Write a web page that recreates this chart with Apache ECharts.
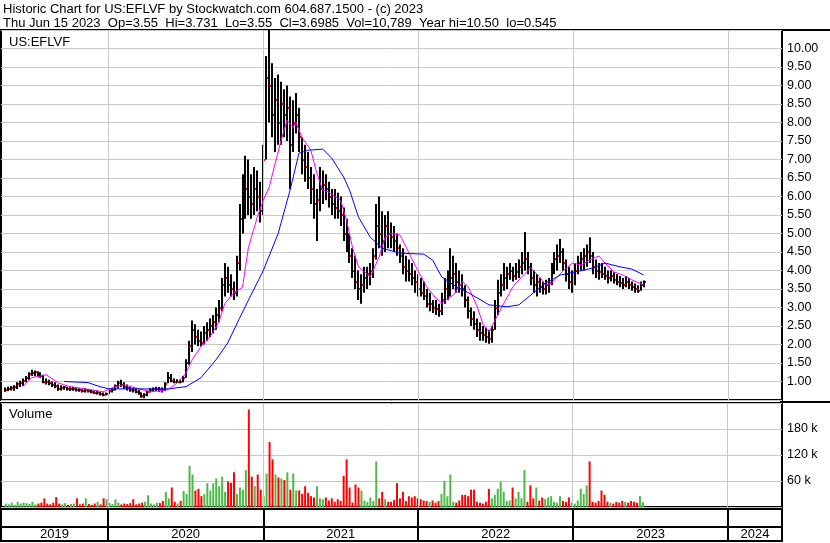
<!DOCTYPE html>
<html><head><meta charset="utf-8">
<script src="https://cdn.jsdelivr.net/npm/echarts/dist/echarts.min.js"></script>
<style>html,body{margin:0;padding:0;background:#fff}#c{width:830px;height:543px}</style>
</head><body><div id="c"></div>
<script>
// ---------- data (weekly bars) ----------
const firstWeek = '2019-05-03';
const highs = [0.84,0.86,0.88,0.90,0.98,1.02,1.08,1.15,1.25,1.32,
1.30,1.28,1.25,1.18,1.08,1.05,1.00,0.98,0.92,0.90,
0.88,0.86,0.85,0.86,0.84,0.82,0.80,0.82,0.80,0.78,
0.76,0.75,0.72,0.70,0.70,0.78,0.82,0.92,1.02,1.05,
0.98,0.92,0.86,0.84,0.82,0.78,0.70,0.68,0.76,0.82,
0.84,0.86,0.85,0.84,0.98,1.26,1.20,1.08,1.06,1.05,
1.15,1.60,2.10,2.65,2.55,2.40,2.35,2.50,2.60,2.70,
2.80,3.00,3.20,3.80,4.20,4.10,3.90,3.70,4.40,5.80,
6.60,7.10,7.00,6.60,6.80,6.70,6.40,7.40,9.80,10.50,
9.60,9.20,9.30,9.10,8.90,9.00,8.70,8.60,8.80,8.40,
7.60,7.40,7.20,6.80,6.60,6.20,6.80,6.70,6.60,6.40,
6.20,6.20,6.10,6.00,5.70,5.40,5.00,4.60,4.40,4.00,
3.90,4.10,4.10,4.20,4.60,5.80,6.00,5.60,5.50,5.60,
5.30,5.20,5.00,4.70,4.60,4.40,4.30,4.20,4.00,3.90,
3.80,3.70,3.50,3.40,3.20,3.20,3.10,3.40,3.80,4.00,
4.60,4.40,4.20,4.00,3.90,3.60,3.30,3.00,2.90,2.70,
2.60,2.50,2.45,2.40,2.50,3.20,3.75,3.90,4.20,4.10,
4.20,4.10,4.20,4.30,4.50,5.04,4.50,4.20,4.00,3.90,
3.80,3.70,3.75,3.80,4.20,4.50,4.70,4.85,4.60,4.30,
4.10,4.00,4.20,4.40,4.50,4.60,4.70,4.90,4.50,4.30,
4.20,4.20,4.10,4.00,4.00,3.95,3.90,3.85,3.80,3.85,
3.80,3.70,3.65,3.60,3.70,3.73];
const lows = [0.72,0.74,0.76,0.75,0.80,0.85,0.88,0.98,1.05,1.15,
1.14,1.12,1.10,0.95,0.92,0.90,0.85,0.82,0.75,0.76,
0.78,0.76,0.74,0.75,0.73,0.72,0.70,0.70,0.70,0.68,
0.66,0.65,0.62,0.60,0.62,0.66,0.70,0.76,0.82,0.85,
0.80,0.76,0.72,0.70,0.68,0.64,0.56,0.545,0.60,0.70,
0.72,0.74,0.72,0.70,0.75,0.95,0.98,0.95,0.96,0.95,
0.98,1.10,1.45,1.80,2.00,1.95,1.95,2.00,2.10,2.20,
2.30,2.40,2.60,2.90,3.30,3.40,3.30,3.20,3.30,4.00,
5.00,5.40,5.50,5.40,5.50,5.60,5.30,5.50,7.00,8.00,
7.60,7.20,7.40,7.40,7.60,7.50,6.20,7.20,7.70,7.20,
6.60,6.40,6.20,5.80,5.40,4.80,5.60,5.80,5.90,5.70,
5.50,5.40,5.40,5.20,4.80,4.50,4.20,3.80,3.50,3.20,
3.10,3.40,3.50,3.60,3.80,4.30,4.60,4.40,4.50,4.60,
4.60,4.50,4.40,4.20,3.90,3.70,3.70,3.60,3.40,3.30,
3.30,3.20,3.00,2.90,2.85,2.80,2.75,2.80,3.10,3.20,
3.30,3.50,3.40,3.40,3.30,3.00,2.70,2.50,2.40,2.20,
2.10,2.10,2.05,2.02,2.05,2.40,2.80,3.30,3.45,3.50,
3.75,3.70,3.75,3.80,3.90,4.00,3.90,3.60,3.40,3.30,
3.40,3.35,3.35,3.40,3.60,3.90,4.00,4.20,4.00,3.70,
3.50,3.40,3.60,3.90,4.00,4.00,4.10,4.20,3.90,3.80,
3.75,3.80,3.75,3.65,3.70,3.65,3.60,3.55,3.50,3.55,
3.50,3.45,3.40,3.40,3.45,3.55];
const closes = [0.78,0.80,0.82,0.86,0.92,0.96,1.02,1.10,1.20,1.22,
1.25,1.18,1.15,1.00,0.98,0.95,0.90,0.88,0.80,0.82,
0.84,0.80,0.80,0.80,0.78,0.77,0.75,0.76,0.74,0.72,
0.70,0.70,0.66,0.64,0.66,0.74,0.78,0.88,0.95,0.90,
0.86,0.82,0.78,0.76,0.72,0.68,0.62,0.64,0.72,0.78,
0.80,0.80,0.78,0.76,0.92,1.10,1.02,1.00,1.00,0.98,
1.10,1.50,1.95,2.40,2.20,2.10,2.05,2.30,2.40,2.50,
2.60,2.80,3.00,3.60,3.80,3.60,3.50,3.40,4.20,5.40,
6.00,6.20,6.00,5.80,6.20,6.00,5.60,7.00,9.20,9.00,
8.20,8.60,8.00,8.50,8.20,8.40,7.40,8.00,8.20,7.60,
7.00,6.80,6.50,6.20,5.80,5.90,6.20,6.30,6.20,6.00,
5.80,5.70,5.60,5.50,5.00,4.80,4.40,4.00,3.70,3.50,
3.60,3.80,3.90,4.00,4.40,5.20,5.00,4.80,5.20,5.00,
4.90,4.80,4.60,4.40,4.10,4.00,3.90,3.80,3.70,3.50,
3.40,3.30,3.10,3.10,3.00,2.95,2.90,3.20,3.50,3.60,
3.80,3.90,3.70,3.60,3.50,3.20,2.90,2.70,2.55,2.40,
2.30,2.25,2.20,2.15,2.40,3.00,3.40,3.60,3.80,3.90,
4.00,3.85,3.95,4.10,4.20,4.30,4.10,3.80,3.60,3.70,
3.55,3.50,3.60,3.65,4.00,4.30,4.40,4.50,4.20,3.90,
3.70,3.80,4.00,4.20,4.30,4.40,4.50,4.40,4.10,4.00,
3.95,3.90,3.85,3.80,3.85,3.75,3.70,3.65,3.60,3.70,
3.60,3.55,3.50,3.45,3.60,3.70];
const volumesK = [8,6,10,5,12,8,10,9,7,12,6,
8,10,20,8,6,10,23,8,6,9,
5,7,8,20,6,8,20,7,5,8,
12,6,20,18,9,7,18,10,6,8,
7,9,18,6,8,10,12,27,8,6,
10,9,14,35,20,45,12,8,14,37,
30,95,75,38,42,25,30,55,38,55,
66,48,70,35,59,56,80,30,45,40,
85,225,70,48,75,40,25,77,150,110,
75,68,66,62,80,40,77,38,38,30,
48,33,25,22,48,20,18,22,15,20,
12,18,14,72,110,45,10,52,45,38,
15,12,22,14,105,20,35,18,12,12,
16,55,20,35,14,25,22,25,20,18,
15,14,12,15,10,14,30,60,25,75,
12,10,15,28,28,25,40,40,12,10,
8,12,42,20,28,42,58,35,14,15,
45,20,35,20,85,12,50,20,45,15,
22,18,22,25,12,10,25,14,12,22,
10,8,15,42,30,50,105,12,10,14,
38,28,12,10,8,12,10,14,12,10,
14,12,10,25,11];
const magentaWeeks = [6,9,14,18,22,29,33,37,40,44,49,55,58,61,63,66,69,72,74,77,80,82,85,87,89,91,93,95,97,98,100,103,105,107,109,113,115,117,119,123,126,128,130,133,135,139,142,145,147,151,154,156,159,161,163,165,168,171,174,177,180,182,184,188,191,194,198,200,202,205,208,211,215];
const magentaValues = [0.86,1.10,1.18,0.96,0.86,0.78,0.72,0.86,0.91,0.83,0.72,0.78,0.96,1.23,1.58,1.94,2.20,2.60,3.10,3.39,3.55,4.63,5.45,5.90,6.26,6.90,7.52,8.06,7.88,8.00,7.60,7.25,6.63,6.17,6.12,5.90,5.36,4.63,4.10,3.83,4.37,4.90,5.00,4.96,4.64,4.00,3.56,3.26,3.12,3.34,3.70,3.56,3.02,2.53,2.34,2.66,3.12,3.56,3.83,4.07,3.83,3.60,3.66,4.00,4.20,4.15,4.33,4.39,4.20,3.96,3.88,3.75,3.61];
const blueWeeks = [20,28,32,35,43,55,61,66,71,75,79,82,87,92,96,99,102,107,110,114,116,119,123,127,133,141,144,147,152,156,163,169,173,178,182,187,192,198,202,207,211,215];
const blueValues = [1.00,0.97,0.86,0.80,0.80,0.80,0.86,1.10,1.58,2.04,2.71,3.20,4.00,5.00,6.17,7.17,7.25,7.28,7.04,6.53,6.18,5.45,4.90,4.60,4.47,4.44,4.28,3.83,3.56,3.40,3.07,3.02,3.07,3.40,3.66,3.88,3.96,4.07,4.20,4.10,4.04,3.88];
const yearLabels = ['2019','2020','2021','2022','2023','2024'];
const axisStart = '2019-04-24', axisEnd = '2024-05-07';
const headerLine1 = 'Historic Chart for US:EFLVF by Stockwatch.com 604.687.1500 - (c) 2023';
const headerLine2 = 'Thu Jun 15 2023  Op=3.55  Hi=3.731  Lo=3.55  Cl=3.6985  Vol=10,789  Year hi=10.50  lo=0.545';
const symbolLabel = 'US:EFLVF';
const volumeLabel = 'Volume';

// ---------- build ----------
const DAY = 86400000;
const ts = s => Date.parse(s + 'T00:00:00Z');
const t0 = ts(firstWeek);
const dates = closes.map((_, i) => t0 + i * 7 * DAY);
const xMin = ts(axisStart), xMax = ts(axisEnd);
const priceData = closes.map((c, i) => [dates[i], lows[i], highs[i], c]);
const volData = volumesK.map((v, i) => ({
  value: [dates[i], v * 1000],
  itemStyle: {color: (i > 0 && closes[i] < closes[i - 1]) ? '#ff0000' : '#4cb847'}
}));
const magData = magentaWeeks.map((w, k) => [dates[w], magentaValues[k]]);
const blueData = blueWeeks.map((w, k) => [dates[w], blueValues[k]]);
const yearStarts = yearLabels.map(y => ts(y + '-01-01'));
const boundaries = yearStarts.filter(t => t > xMin && t < xMax);
const yearAreas = yearLabels.map((y, k) => {
  const a = Math.max(yearStarts[k], xMin);
  const b = Math.min(ts((+y + 1) + '-01-01'), xMax);
  return [{xAxis: a, yAxis: 0, name: y}, {xAxis: b, yAxis: 7}];
});

const FONT = '"Liberation Sans", Arial, sans-serif';
const chart = echarts.init(document.getElementById('c'), null, {renderer: 'canvas'});
const gridCommon = {left: 1, right: 48, show: true, borderColor: '#000', borderWidth: 2, backgroundColor: 'transparent'};
const xCommon = {type: 'time', min: xMin, max: xMax, axisLine: {show: false}, axisTick: {show: false}, axisLabel: {show: false}, splitLine: {show: false}};
const grayLines = (idx) => ({
  type: 'line', xAxisIndex: idx, yAxisIndex: idx, data: [], z: 1, silent: true,
  markLine: {symbol: 'none', silent: true, animation: false, label: {show: false},
    lineStyle: {color: '#c8c8c8', width: 1, type: 'solid'},
    data: boundaries.map(t => ({xAxis: t}))}
});

chart.setOption({
  animation: false,
  backgroundColor: '#fff',
  textStyle: {fontFamily: FONT},
  graphic: [
    {type: 'text', x: 3, y: 9, style: {text: headerLine1, font: '13px ' + FONT, fill: '#000', verticalAlign: 'middle'}},
    {type: 'text', x: 3, y: 23, style: {text: headerLine2, font: '13px ' + FONT, fill: '#000', verticalAlign: 'middle'}},
    {type: 'text', x: 9, y: 42, z: 50, style: {text: symbolLabel, font: '13px ' + FONT, fill: '#000', verticalAlign: 'middle'}},
    {type: 'text', x: 9, y: 414, z: 50, style: {text: volumeLabel, font: '13px ' + FONT, fill: '#000', verticalAlign: 'middle'}},
    {type: 'line', shape: {x1: 780, y1: 30, x2: 830, y2: 30}, style: {stroke: '#000', lineWidth: 2}},
    {type: 'line', shape: {x1: 780, y1: 402, x2: 830, y2: 402}, style: {stroke: '#000', lineWidth: 2}}
  ],
  grid: [
    Object.assign({top: 30, height: 370}, gridCommon),
    Object.assign({top: 403, height: 104}, gridCommon),
    Object.assign({top: 509, height: 32}, gridCommon)
  ],
  xAxis: [Object.assign({gridIndex: 0}, xCommon), Object.assign({gridIndex: 1}, xCommon), Object.assign({gridIndex: 2}, xCommon)],
  yAxis: [
    {gridIndex: 0, type: 'value', position: 'right', min: 0.5, max: 10.5, interval: 0.5,
      axisLine: {show: false}, axisTick: {show: false},
      axisLabel: {margin: 5, color: '#000', fontSize: 12.5, fontFamily: FONT,
        formatter: v => (v < 0.99 || v > 10.01) ? '' : v.toFixed(2)},
      splitLine: {lineStyle: {color: '#c8c8c8', width: 1}}},
    {gridIndex: 1, type: 'value', position: 'right', min: 0, max: 240000, interval: 60000,
      axisLine: {show: false}, axisTick: {show: false},
      axisLabel: {margin: 5, color: '#000', fontSize: 12.5, fontFamily: FONT,
        formatter: v => (v === 0 || v === 240000) ? '' : (v / 1000) + ' k'},
      splitLine: {lineStyle: {color: '#c8c8c8', width: 1}}},
    {gridIndex: 2, type: 'value', min: 0, max: 16, show: false, splitLine: {show: false}}
  ],
  series: [
    grayLines(0),
    grayLines(1),
    {type: 'custom', xAxisIndex: 0, yAxisIndex: 0, z: 3, clip: true, data: priceData,
      encode: {x: 0, y: [1, 2, 3]},
      renderItem: (params, api) => {
        const x = Math.round(api.coord([api.value(0), 1])[0]);
        const yl = api.coord([api.value(0), api.value(1)])[1];
        const yh = api.coord([api.value(0), api.value(2)])[1];
        const yc = api.coord([api.value(0), api.value(3)])[1];
        return {type: 'group', children: [
          {type: 'rect', shape: {x: x - 1, y: yh, width: 2, height: Math.max(1, yl - yh)}, style: {fill: '#000'}},
          {type: 'rect', shape: {x: x + 1, y: Math.round(yc) - 1, width: 1, height: 2}, style: {fill: '#ff0000'}}
        ]};
      }},
    {type: 'line', xAxisIndex: 0, yAxisIndex: 0, z: 5, data: magData, showSymbol: false, symbol: 'none',
      lineStyle: {color: '#ff00ff', width: 1}, silent: true},
    {type: 'line', xAxisIndex: 0, yAxisIndex: 0, z: 5, data: blueData, showSymbol: false, symbol: 'none',
      lineStyle: {color: '#0000ff', width: 1}, silent: true},
    {type: 'bar', xAxisIndex: 1, yAxisIndex: 1, z: 3, data: volData, barWidth: 2, barGap: '0%', silent: true},
    {type: 'line', xAxisIndex: 2, yAxisIndex: 2, data: [], silent: true,
      markLine: {symbol: 'none', silent: true, label: {show: false},
        lineStyle: {color: '#000', width: 2, type: 'solid'},
        data: boundaries.map(t => ({xAxis: t})).concat([{yAxis: 7}])},
      markArea: {silent: true, itemStyle: {color: 'rgba(0,0,0,0)'},
        label: {show: true, position: 'inside', color: '#000', fontSize: 13, fontFamily: FONT},
        data: yearAreas}}
  ]
});
</script></body></html>
